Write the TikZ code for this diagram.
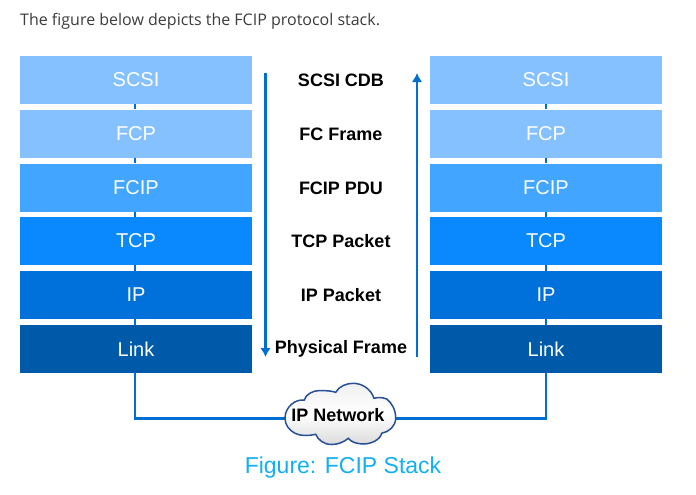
\documentclass[tikz,border=0pt]{standalone}
\usepackage{fontspec}
\setmainfont{Liberation Sans}
\newfontfamily\introfont{Open Sans}
\usetikzlibrary{arrows.meta}
\definecolor{layerA}{RGB}{133,193,255}
\definecolor{layerB}{RGB}{66,165,255}
\definecolor{layerC}{RGB}{10,137,255}
\definecolor{layerD}{RGB}{0,112,219}
\definecolor{layerE}{RGB}{0,90,170}
\definecolor{wire}{RGB}{0,110,210}
\definecolor{cloudline}{RGB}{40,80,150}
\definecolor{captionblue}{RGB}{20,175,240}
\tikzset{
  layer/.style={minimum width=232pt,minimum height=48pt,inner sep=0pt,text=white,font=\fontsize{20}{22}\selectfont},
  pdu/.style={inner sep=0pt,font=\bfseries\fontsize{18}{20}\selectfont},
  wireline/.style={color=wire,line width=2.4pt},
  flow/.style={color=wire,line width=2.6pt,-{Latex[length=9pt,width=10.5pt]}},
}
\begin{document}
\begin{tikzpicture}[x=1pt,y=-1pt]
      \useasboundingbox (0,0) rectangle (696,495);
      \node [anchor=base west,inner sep=0pt,text={rgb,255:red,60;green,60;blue,60},font=\introfont\fontsize{16}{18}\selectfont] (intro) at (20,26) {The figure below depicts the FCIP protocol stack.};

      % stack on the left
      \node [layer,fill=layerA] (scsiL) at (136,80) {SCSI};
      \node [layer,fill=layerA] (fcpL) at (136,133.5) {FCP};
      \node [layer,fill=layerB] (fcipL) at (136,187.5) {FCIP};
      \node [layer,fill=layerC] (tcpL) at (136,241) {TCP};
      \node [layer,fill=layerD] (ipL) at (136,295) {IP};
      \node [layer,fill=layerE] (linkL) at (136,349) {Link};

      % stack on the right
      \node [layer,fill=layerA] (scsiR) at (546,80) {SCSI};
      \node [layer,fill=layerA] (fcpR) at (546,133.5) {FCP};
      \node [layer,fill=layerB] (fcipR) at (546,187.5) {FCIP};
      \node [layer,fill=layerC] (tcpR) at (546,241) {TCP};
      \node [layer,fill=layerD] (ipR) at (546,295) {IP};
      \node [layer,fill=layerE] (linkR) at (546,349) {Link};

      \draw [wireline] ([xshift=-1pt]scsiL.south) -- ([xshift=-1pt]fcpL.north);
      \draw [wireline] ([xshift=-1pt]fcpL.south) -- ([xshift=-1pt]fcipL.north);
      \draw [wireline] ([xshift=-1pt]fcipL.south) -- ([xshift=-1pt]tcpL.north);
      \draw [wireline] ([xshift=-1pt]tcpL.south) -- ([xshift=-1pt]ipL.north);
      \draw [wireline] ([xshift=-1pt]ipL.south) -- ([xshift=-1pt]linkL.north);
      \draw [wireline] (scsiR) -- (fcpR);
      \draw [wireline] (fcpR) -- (fcipR);
      \draw [wireline] (fcipR) -- (tcpR);
      \draw [wireline] (tcpR) -- (ipR);
      \draw [wireline] (ipR) -- (linkR);

      \node [pdu] (cdb) at (341,80) {SCSI CDB};
      \node [pdu] (frame) at (341,134) {FC Frame};
      \node [pdu] (fcippdu) at (341,188) {FCIP PDU};
      \node [pdu] (packet) at (341,241.5) {TCP Packet};
      \node [pdu] (ippacket) at (341,295) {IP Packet};
      \node [pdu] (physical) at (341,349) {Physical Frame};

      \coordinate (downstart) at (265.5,73);
      \coordinate (downend) at (265.5,357);
      \coordinate (upstart) at (417,357);
      \coordinate (upend) at (417,73);
      \draw [flow] (downstart) -- (downend);
      \draw [flow] (upstart) -- (upend);

      % cloud and the link between the stacks
      \node [inner sep=0pt,minimum width=111pt,font=\bfseries\fontsize{18}{20}\selectfont] (net) at (340.5,418.3) {};
      \draw [wireline] ([xshift=-1pt]linkL.south) |- (net.west);
      \draw [wireline] (linkR.south) |- (net.east);
      \draw [draw=cloudline,line width=1.5pt,top color=black!6,bottom color=black!14,middle color=white]
        (285,418.3) .. controls (285,407) and (295,399) .. (304.3,400)
        .. controls (306,394) and (313,390.5) .. (320,390.5)
        .. controls (326,390.5) and (332,391) .. (335.7,392.3)
        .. controls (339,386) and (347,383.3) .. (353.3,383.3)
        .. controls (362,383.3) and (371,389) .. (374,398.3)
        .. controls (378,397) and (383,397.5) .. (386.7,399)
        .. controls (392,403) and (395.7,410) .. (395.7,418.3)
        .. controls (395.7,426) and (389,432) .. (381.7,433.3)
        .. controls (380,440) and (371,444) .. (363.3,444)
        .. controls (357,444) and (351,442) .. (348.3,438.3)
        .. controls (344,442) and (338,444.5) .. (331.7,444.5)
        .. controls (324,444.5) and (318,440) .. (315.7,434.3)
        .. controls (308,436) and (300,436) .. (295,433.3)
        .. controls (289,430) and (285,425) .. (285,418.3) -- cycle;
      \node [inner sep=0pt,font=\bfseries\fontsize{18}{20}\selectfont] (netlabel) at (338,415.5) {IP Network};

      \node [text=captionblue,inner sep=0pt,font=\fontsize{23}{25}\selectfont] (caption) at (343,467.5) {Figure: FCIP Stack};
      \end{tikzpicture}
\end{document}
